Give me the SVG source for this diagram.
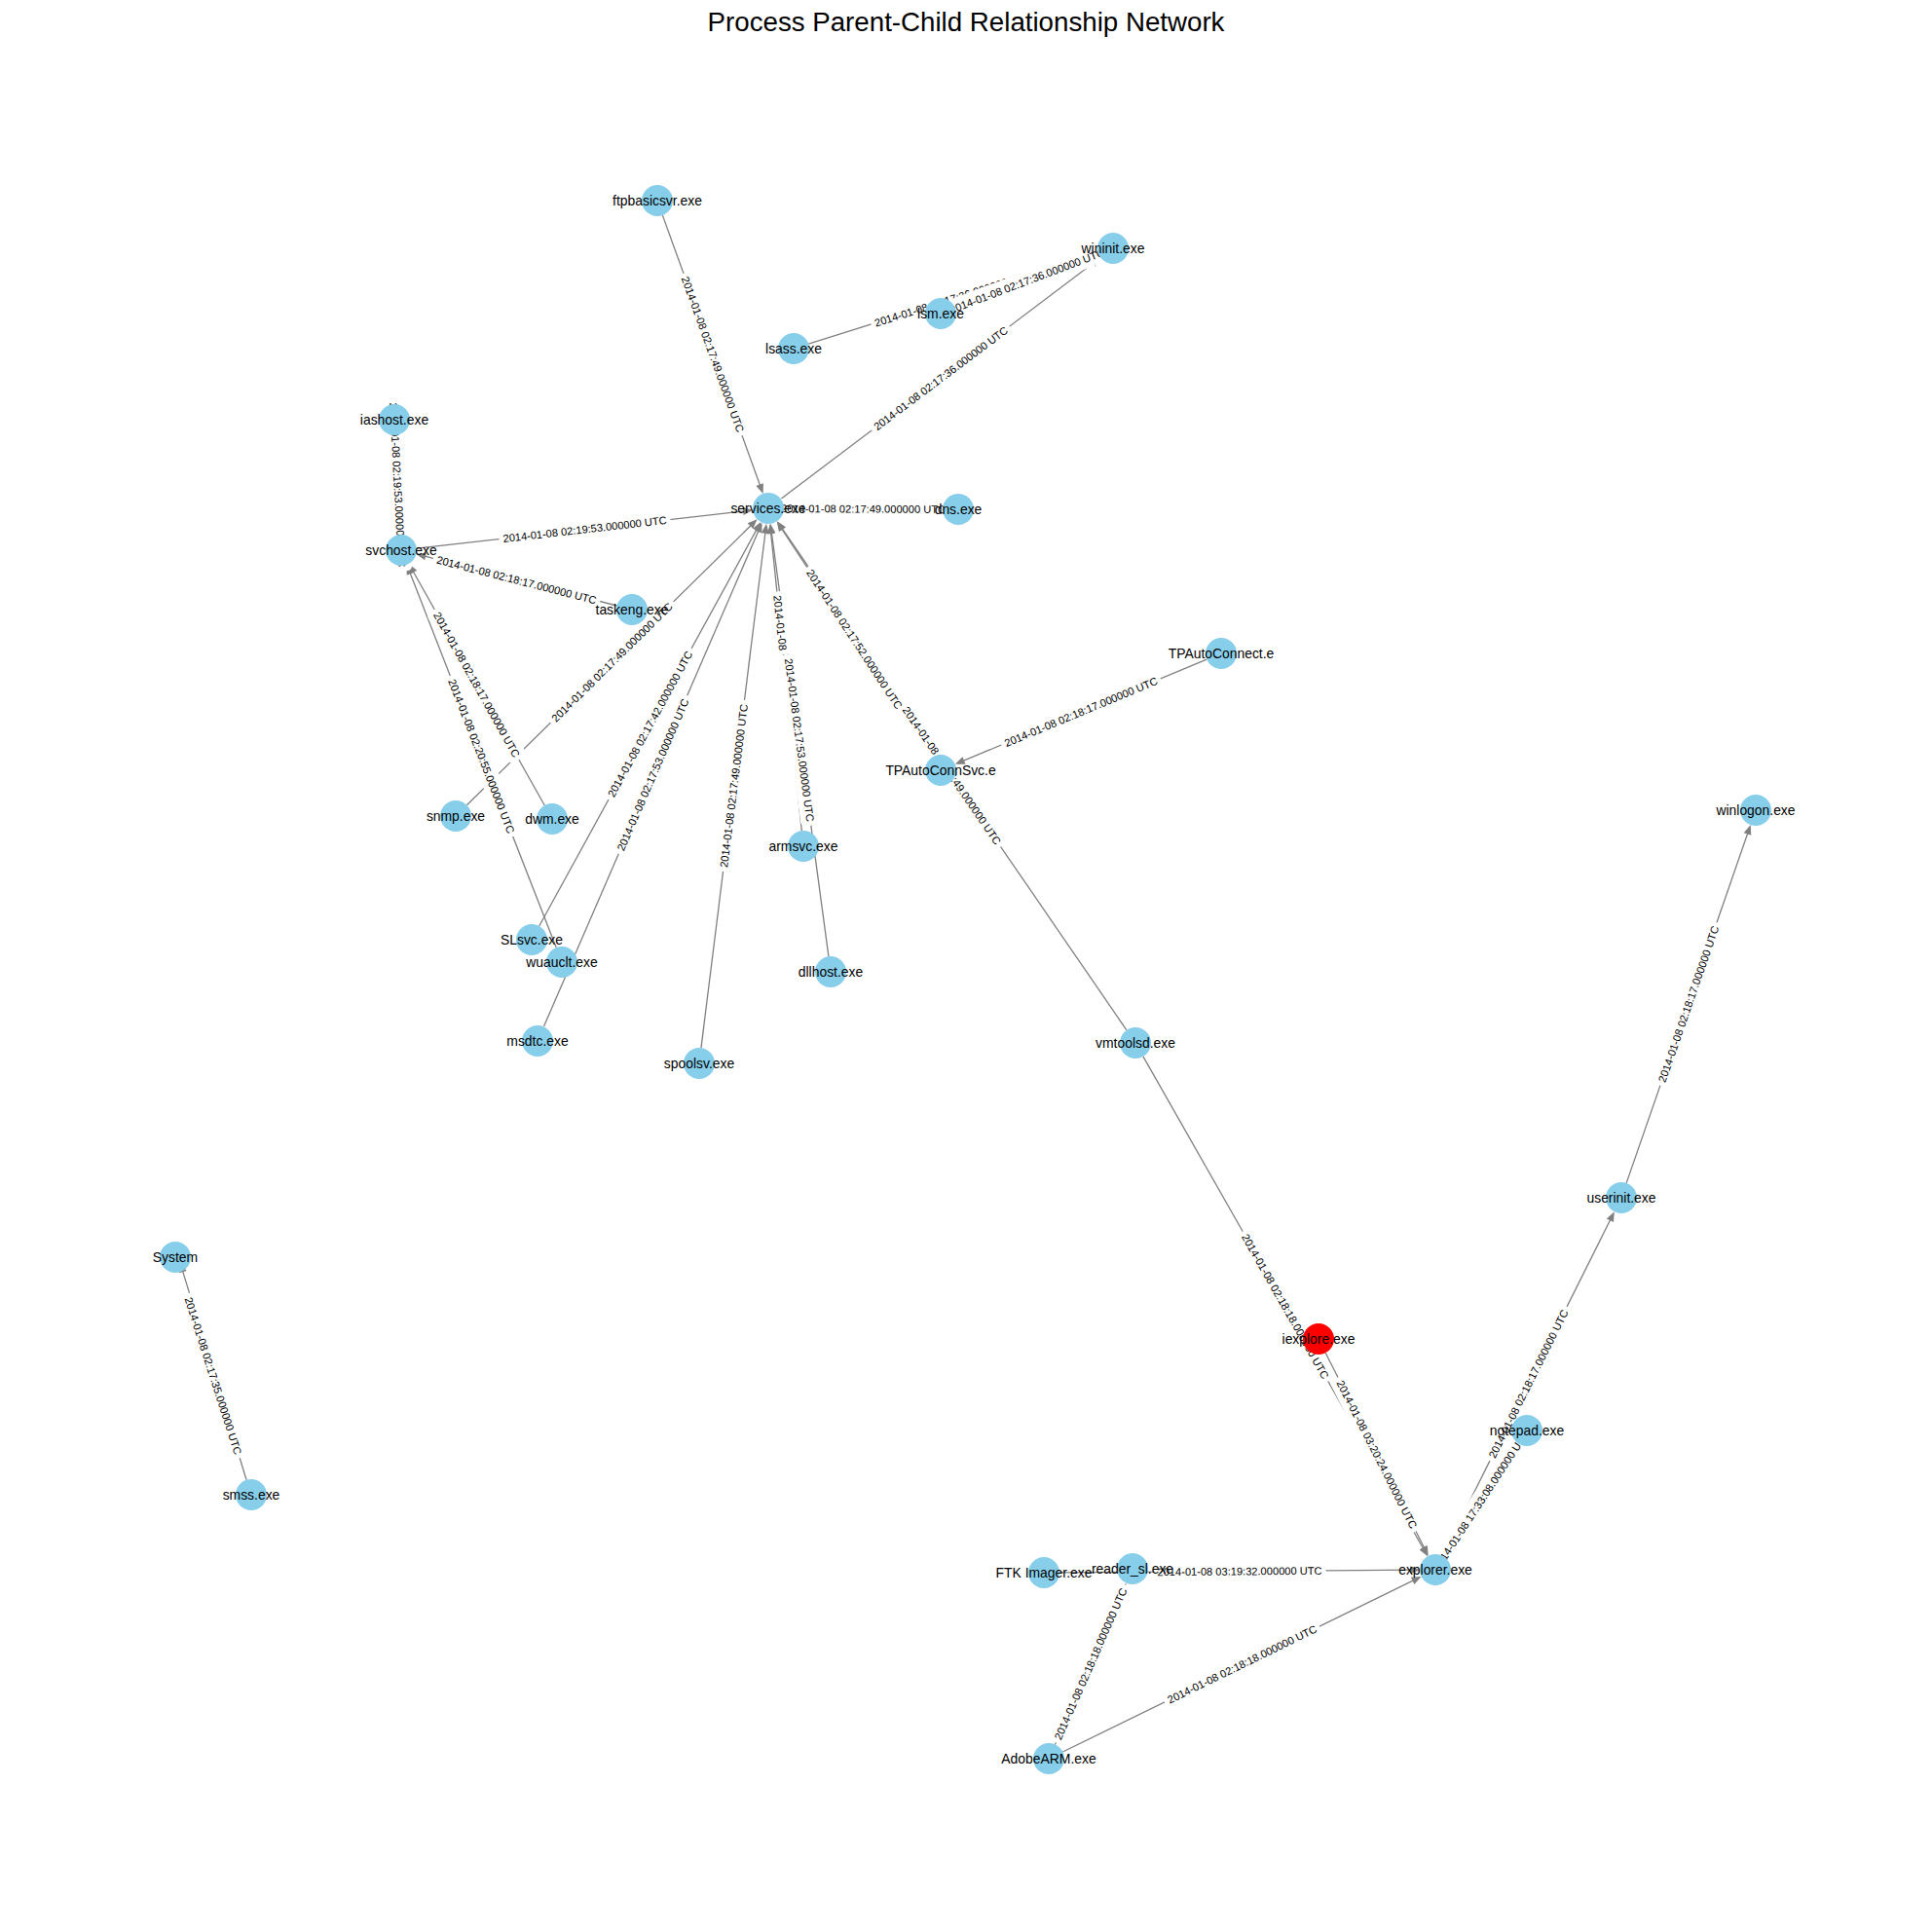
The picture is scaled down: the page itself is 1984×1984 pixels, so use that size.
<svg xmlns="http://www.w3.org/2000/svg" width="1984" height="1984" viewBox="0 0 1984 1984">
<style>
.e{stroke:#808080;stroke-width:1.3;fill:none;marker-end:url(#ah)}
.lb{fill:#ffffff;stroke:#ffffff}
.el{font-family:"Liberation Sans",Arial,sans-serif;font-size:11.1px;fill:#000;text-anchor:middle;dominant-baseline:central}
.els{font-family:"Liberation Sans",Arial,sans-serif;font-size:11.1px;fill:#000;text-anchor:start;dominant-baseline:central}
.n{fill:#87CEEB}
.nr{fill:#FF0000}
.nl{font-family:"Liberation Sans",Arial,sans-serif;font-size:13.9px;fill:#000;text-anchor:middle;dominant-baseline:central}
.title{font-family:"Liberation Sans",Arial,sans-serif;font-size:27.7px;fill:#000;text-anchor:middle;dominant-baseline:central}
</style>
<defs>
<marker id="ah" markerWidth="10" markerHeight="8" refX="5" refY="4" orient="auto" markerUnits="userSpaceOnUse" overflow="visible">
<path d="M0,0 L10,4 L0,8 z" fill="#808080"/>
</marker>
</defs>
<rect width="1984" height="1984" fill="#ffffff"/>
<text class="title" x="992" y="22">Process Parent-Child Relationship Network</text>

<g id="edges">
<line class="e" x1="680.4" y1="221.1" x2="781.9" y2="502.3"/>
<line class="e" x1="801.8" y1="512.4" x2="1126.2" y2="267.6"/>
<line class="e" x1="830.3" y1="353.2" x2="1122.9" y2="261.3"/>
<line class="e" x1="981.0" y1="316.3" x2="1123.3" y2="262.5"/>
<line class="e" x1="427.9" y1="563.2" x2="768.1" y2="524.4"/>
<line class="e" x1="968" y1="522.9" x2="810" y2="522.1"/>
<line class="e" x1="405.8" y1="447" x2="410.9" y2="544"/>
<line class="e" x1="633.5" y1="622.0" x2="432.3" y2="570.2"/>
<line class="e" x1="479.4" y1="826.8" x2="774.0" y2="536.7"/>
<line class="e" x1="559.2" y1="827.0" x2="422.3" y2="583.3"/>
<line class="e" x1="571.2" y1="973.1" x2="419.6" y2="584.6"/>
<line class="e" x1="553.7" y1="951.0" x2="778.9" y2="540.4"/>
<line class="e" x1="558.4" y1="1054.3" x2="780.6" y2="541.3"/>
<line class="e" x1="720.0" y1="1076.1" x2="786.4" y2="542.8"/>
<line class="e" x1="823.3" y1="853.1" x2="791.2" y2="543.1"/>
<line class="e" x1="850.9" y1="982.1" x2="791.8" y2="542.8"/>
<line class="e" x1="957.2" y1="777.6" x2="800.5" y2="539.6"/>
<line class="e" x1="1156.9" y1="1057.8" x2="800.9" y2="539.3"/>
<line class="e" x1="1239.2" y1="677.2" x2="985.4" y2="782.9"/>
<line class="e" x1="1173.9" y1="1084.9" x2="1463.6" y2="1593.8"/>
<line class="e" x1="1361.2" y1="1389.3" x2="1464.5" y2="1593.2"/>
<line class="e" x1="1088" y1="1614.9" x2="1453" y2="1612.2"/>
<line class="e" x1="1091.4" y1="1799.0" x2="1455.1" y2="1621.2"/>
<line class="e" x1="1083.5" y1="1791.4" x2="1154.5" y2="1630.2"/>
<line class="e" x1="1559.2" y1="1482.4" x2="1485.5" y2="1594.4"/>
<line class="e" x1="1481.2" y1="1597.7" x2="1655.6" y2="1248.8"/>
<line class="e" x1="1670.2" y1="1214.9" x2="1796.1" y2="851.8"/>
<line class="e" x1="253.1" y1="1519.8" x2="186.4" y2="1301.4"/>
</g>

<g id="edge-labels">
<g transform="translate(732,364) rotate(70.16)"><rect class="lb" x="-88" y="-9.5" width="176" height="19" rx="4"/><text class="el">2014-01-08 02:17:49.000000 UTC</text></g>
<g transform="translate(966,388.5) rotate(-37.02)"><rect class="lb" x="-88" y="-9.5" width="176" height="19" rx="4"/><text class="el">2014-01-08 02:17:36.000000 UTC</text></g>
<g transform="translate(979,306.5) rotate(-17.43)"><rect class="lb" x="-88" y="-9.5" width="176" height="19" rx="4"/><text class="el">2014-01-08 02:17:36.000000 UTC</text></g>
<g transform="translate(1054.5,288.5) rotate(-20.73)"><rect class="lb" x="-88" y="-9.5" width="176" height="19" rx="4"/><text class="el">2014-01-08 02:17:36.000000 UTC</text></g>
<g transform="translate(600.5,543.5) rotate(-6.51)"><rect class="lb" x="-88" y="-9.5" width="176" height="19" rx="4"/><text class="el">2014-01-08 02:19:53.000000 UTC</text></g>
<g transform="translate(886.5,522.5) rotate(0.29)"><rect class="lb" x="-88" y="-9.5" width="176" height="19" rx="4"/><text class="el">2014-01-08 02:17:49.000000 UTC</text></g>
<g transform="translate(408.5,498) rotate(87.0)"><rect class="lb" x="-88" y="-9.5" width="176" height="19" rx="4"/><text class="el">2014-01-08 02:19:53.000000 UTC</text></g>
<g transform="translate(530.5,595.5) rotate(14.43)"><rect class="lb" x="-88" y="-9.5" width="176" height="19" rx="4"/><text class="el">2014-01-08 02:18:17.000000 UTC</text></g>
<g transform="translate(628.5,680) rotate(-44.55)"><rect class="lb" x="-88" y="-9.5" width="176" height="19" rx="4"/><text class="el">2014-01-08 02:17:49.000000 UTC</text></g>
<g transform="translate(489.5,703) rotate(60.68)"><rect class="lb" x="-88" y="-9.5" width="176" height="19" rx="4"/><text class="el">2014-01-08 02:18:17.000000 UTC</text></g>
<g transform="translate(494.5,776.5) rotate(68.69)"><rect class="lb" x="-88" y="-9.5" width="176" height="19" rx="4"/><text class="el">2014-01-08 02:20:55.000000 UTC</text></g>
<g transform="translate(667.5,743.5) rotate(-61.26)"><rect class="lb" x="-88" y="-9.5" width="176" height="19" rx="4"/><text class="el">2014-01-08 02:17:42.000000 UTC</text></g>
<g transform="translate(670.5,795.5) rotate(-66.57)"><rect class="lb" x="-88" y="-9.5" width="176" height="19" rx="4"/><text class="el">2014-01-08 02:17:53.000000 UTC</text></g>
<g transform="translate(753.5,807) rotate(-82.90)"><rect class="lb" x="-88" y="-9.5" width="176" height="19" rx="4"/><text class="el">2014-01-08 02:17:49.000000 UTC</text></g>
<g transform="translate(807,695.5) rotate(84.08)"><rect class="lb" x="-88" y="-9.5" width="64" height="19" rx="4"/><text class="els" x="-84.5">2014-01-08</text></g>
<g transform="translate(821,760) rotate(82.34)"><rect class="lb" x="-88" y="-9.5" width="176" height="19" rx="4"/><text class="el">2014-01-08 02:17:53.000000 UTC</text></g>
<g transform="translate(877.5,656.5) rotate(56.66)"><rect class="lb" x="-88" y="-9.5" width="176" height="19" rx="4"/><text class="el">2014-01-08 02:17:52.000000 UTC</text></g>
<g transform="translate(977.5,796.5) rotate(55.52)"><rect class="lb" x="-88" y="-9.5" width="176" height="19" rx="4"/><text class="el">2014-01-08 02:17:49.000000 UTC</text></g>
<g transform="translate(1110,731) rotate(-22.62)"><rect class="lb" x="-88" y="-9.5" width="176" height="19" rx="4"/><text class="el">2014-01-08 02:18:17.000000 UTC</text></g>
<g transform="translate(1320,1341.5) rotate(60.35)"><rect class="lb" x="-88" y="-9.5" width="176" height="19" rx="4"/><text class="el">2014-01-08 02:18:18.000000 UTC</text></g>
<g transform="translate(1414,1493.5) rotate(63.15)"><rect class="lb" x="-88" y="-9.5" width="176" height="19" rx="4"/><text class="el">2014-01-08 03:20:24.000000 UTC</text></g>
<g transform="translate(1273,1613.5) rotate(-0.43)"><rect class="lb" x="-88" y="-9.5" width="176" height="19" rx="4"/><text class="el">2014-01-08 03:19:32.000000 UTC</text></g>
<g transform="translate(1275.5,1709) rotate(-26.04)"><rect class="lb" x="-88" y="-9.5" width="176" height="19" rx="4"/><text class="el">2014-01-08 02:18:18.000000 UTC</text></g>
<g transform="translate(1120,1708.5) rotate(-66.20)"><rect class="lb" x="-88" y="-9.5" width="176" height="19" rx="4"/><text class="el">2014-01-08 02:18:18.000000 UTC</text></g>
<g transform="translate(1521,1540.5) rotate(-56.68)"><rect class="lb" x="-88" y="-9.5" width="176" height="19" rx="4"/><text class="el">2014-01-08 17:33:08.000000 UTC</text></g>
<g transform="translate(1569.5,1421) rotate(-63.43)"><rect class="lb" x="-88" y="-9.5" width="176" height="19" rx="4"/><text class="el">2014-01-08 02:18:17.000000 UTC</text></g>
<g transform="translate(1734,1031) rotate(-70.88)"><rect class="lb" x="-88" y="-9.5" width="176" height="19" rx="4"/><text class="el">2014-01-08 02:18:17.000000 UTC</text></g>
<g transform="translate(219,1413) rotate(72.27)"><rect class="lb" x="-88" y="-9.5" width="176" height="19" rx="4"/><text class="el">2014-01-08 02:17:35.000000 UTC</text></g>
</g>

<g id="nodes">
<g id="n-ftpbasicsvr"><circle class="n" cx="675" cy="206" r="16"/><text class="nl" x="675" y="206">ftpbasicsvr.exe</text></g>
<g id="n-wininit"><circle class="n" cx="1143" cy="255" r="16"/><text class="nl" x="1143" y="255">wininit.exe</text></g>
<g id="n-lsm"><circle class="n" cx="966" cy="322" r="16"/><text class="nl" x="966" y="322">lsm.exe</text></g>
<g id="n-lsass"><circle class="n" cx="815" cy="358" r="16"/><text class="nl" x="815" y="358">lsass.exe</text></g>
<g id="n-iashost"><circle class="n" cx="405" cy="431" r="16"/><text class="nl" x="405" y="431">iashost.exe</text></g>
<g id="n-services"><circle class="n" cx="789" cy="522" r="16"/><text class="nl" x="789" y="522">services.exe</text></g>
<g id="n-dns"><circle class="n" cx="984" cy="523" r="16"/><text class="nl" x="984" y="523">dns.exe</text></g>
<g id="n-svchost"><circle class="n" cx="412" cy="565" r="16"/><text class="nl" x="412" y="565">svchost.exe</text></g>
<g id="n-taskeng"><circle class="n" cx="649" cy="626" r="16"/><text class="nl" x="649" y="626">taskeng.exe</text></g>
<g id="n-tpautoconnect"><circle class="n" cx="1254" cy="671" r="16"/><text class="nl" x="1254" y="671">TPAutoConnect.e</text></g>
<g id="n-tpautoconnsvc"><circle class="n" cx="966" cy="791" r="16"/><text class="nl" x="966" y="791">TPAutoConnSvc.e</text></g>
<g id="n-snmp"><circle class="n" cx="468" cy="838" r="16"/><text class="nl" x="468" y="838">snmp.exe</text></g>
<g id="n-dwm"><circle class="n" cx="567" cy="841" r="16"/><text class="nl" x="567" y="841">dwm.exe</text></g>
<g id="n-armsvc"><circle class="n" cx="825" cy="869" r="16"/><text class="nl" x="825" y="869">armsvc.exe</text></g>
<g id="n-winlogon"><circle class="n" cx="1803" cy="832" r="16"/><text class="nl" x="1803" y="832">winlogon.exe</text></g>
<g id="n-slsvc"><circle class="n" cx="546" cy="965" r="16"/><text class="nl" x="546" y="965">SLsvc.exe</text></g>
<g id="n-wuauclt"><circle class="n" cx="577" cy="988" r="16"/><text class="nl" x="577" y="988">wuauclt.exe</text></g>
<g id="n-dllhost"><circle class="n" cx="853" cy="998" r="16"/><text class="nl" x="853" y="998">dllhost.exe</text></g>
<g id="n-msdtc"><circle class="n" cx="552" cy="1069" r="16"/><text class="nl" x="552" y="1069">msdtc.exe</text></g>
<g id="n-spoolsv"><circle class="n" cx="718" cy="1092" r="16"/><text class="nl" x="718" y="1092">spoolsv.exe</text></g>
<g id="n-vmtoolsd"><circle class="n" cx="1166" cy="1071" r="16"/><text class="nl" x="1166" y="1071">vmtoolsd.exe</text></g>
<g id="n-userinit"><circle class="n" cx="1665" cy="1230" r="16"/><text class="nl" x="1665" y="1230">userinit.exe</text></g>
<g id="n-system"><circle class="n" cx="180" cy="1291" r="16"/><text class="nl" x="180" y="1291">System</text></g>
<g id="n-iexplore"><circle class="nr" cx="1354" cy="1375" r="16"/><text class="nl" x="1354" y="1375">iexplore.exe</text></g>
<g id="n-notepad"><circle class="n" cx="1568" cy="1469" r="16"/><text class="nl" x="1568" y="1469">notepad.exe</text></g>
<g id="n-smss"><circle class="n" cx="258" cy="1535" r="16"/><text class="nl" x="258" y="1535">smss.exe</text></g>
<g id="n-ftkimager"><circle class="n" cx="1072" cy="1615" r="16"/><text class="nl" x="1072" y="1615">FTK Imager.exe</text></g>
<g id="n-reader_sl"><circle class="n" cx="1163" cy="1611" r="16"/><text class="nl" x="1163" y="1611">reader_sl.exe</text></g>
<g id="n-explorer"><circle class="n" cx="1474" cy="1612" r="16"/><text class="nl" x="1474" y="1612">explorer.exe</text></g>
<g id="n-adobearm"><circle class="n" cx="1077" cy="1806" r="16"/><text class="nl" x="1077" y="1806">AdobeARM.exe</text></g>
</g>
</svg>
